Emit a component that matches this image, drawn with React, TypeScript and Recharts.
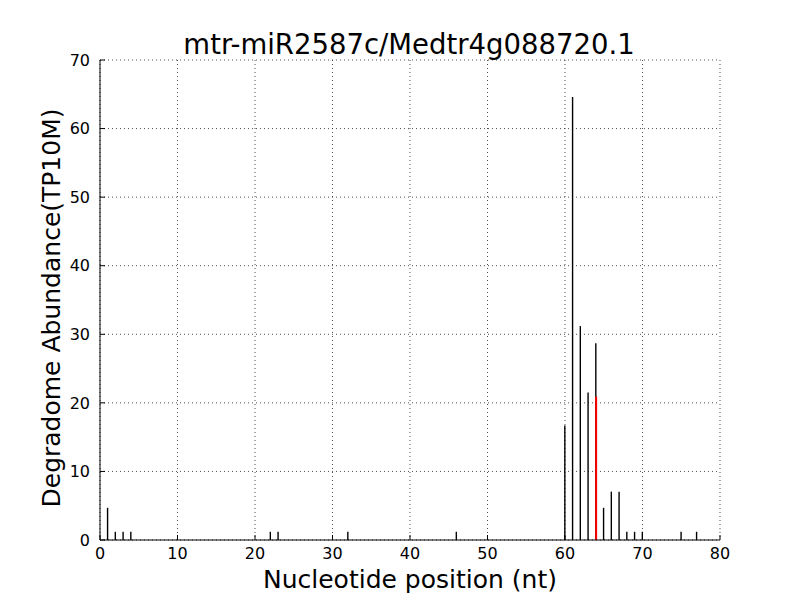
import React from 'react';
import { ComposedChart, Bar, XAxis, YAxis, CartesianGrid } from 'recharts';

// positions with degradome reads and their abundance (TP10M)
const positions = [1, 2, 3, 4, 22, 23, 32, 46, 60, 61, 62, 63, 64, 65, 66, 67, 68, 69, 70, 75, 77];
const abundance = [4.7, 1.2, 1.2, 1.2, 1.2, 1.2, 1.2, 1.2, 16.7, 64.6, 31.2, 21.5, 28.7, 4.7, 7.05, 7.05, 1.2, 1.2, 1.2, 1.2, 1.2];

// predicted cleavage site, drawn in red
const cleavePositions = [64];
const cleaveValues = [20.9];

const xTicks = [0, 10, 20, 30, 40, 50, 60, 70, 80];
const yTicks = [0, 10, 20, 30, 40, 50, 60, 70];

const title = 'mtr-miR2587c/Medtr4g088720.1';

const chartData = positions.map((p, i) => {
  const k = cleavePositions.indexOf(p);
  return { pos: p, value: abundance[i], cleave: k >= 0 ? cleaveValues[k] : null };
});

const font = '"DejaVu Sans", sans-serif';

export default function App() {
  return (
    <div style={{ position: 'absolute', left: 0, top: 0, width: 800, height: 600, background: '#fff', fontFamily: font }}>
      <div
        style={{
          position: 'absolute',
          left: 0,
          top: 31,
          width: 818,
          textAlign: 'center',
          fontSize: 27.5,
          lineHeight: 1,
          color: '#000',
        }}
      >
        {title}
      </div>
      <ComposedChart
        width={800}
        height={600}
        data={chartData}
        margin={{ top: 60, right: 80, bottom: 0, left: 0 }}
      >
        <CartesianGrid stroke="#222" strokeDasharray="1 3" strokeWidth={0.8} />
        <XAxis
          dataKey="pos"
          type="number"
          domain={[0, 80]}
          ticks={xTicks}
          allowDataOverflow
          height={60}
          stroke="#000"
          tickSize={-5}
          tickMargin={13}
          tick={{ fill: '#000', fontSize: 16 }}
          label={{
            value: 'Nucleotide position (nt)',
            position: 'insideBottom',
            offset: 12,
            style: { fontSize: 25, fill: '#000', textAnchor: 'middle' },
          }}
        />
        <XAxis
          xAxisId="top"
          dataKey="pos"
          type="number"
          orientation="top"
          domain={[0, 80]}
          ticks={xTicks}
          allowDataOverflow
          height={0}
          stroke="#000"
          tickSize={-5}
          tick={false}
        />
        <XAxis
          xAxisId="red"
          dataKey="pos"
          type="number"
          domain={[0, 80]}
          allowDataOverflow
          hide
        />
        <YAxis
          type="number"
          domain={[0, 70]}
          ticks={yTicks}
          allowDataOverflow
          width={100}
          stroke="#000"
          tickSize={-5}
          tickMargin={15}
          tick={{ fill: '#000', fontSize: 16 }}
          label={{
            value: 'Degradome Abundance(TP10M)',
            angle: -90,
            position: 'insideLeft',
            offset: 51,
            dy: 8,
            style: { fontSize: 25, fill: '#000', textAnchor: 'middle' },
          }}
        />
        <YAxis
          yAxisId="right"
          type="number"
          orientation="right"
          domain={[0, 70]}
          ticks={yTicks}
          allowDataOverflow
          width={0}
          stroke="#000"
          tickSize={-5}
          tick={false}
        />
        <Bar dataKey="value" fill="#000" barSize={1.4} isAnimationActive={false} />
        <Bar xAxisId="red" dataKey="cleave" fill="#ff0000" barSize={2} isAnimationActive={false} />
      </ComposedChart>
    </div>
  );
}
